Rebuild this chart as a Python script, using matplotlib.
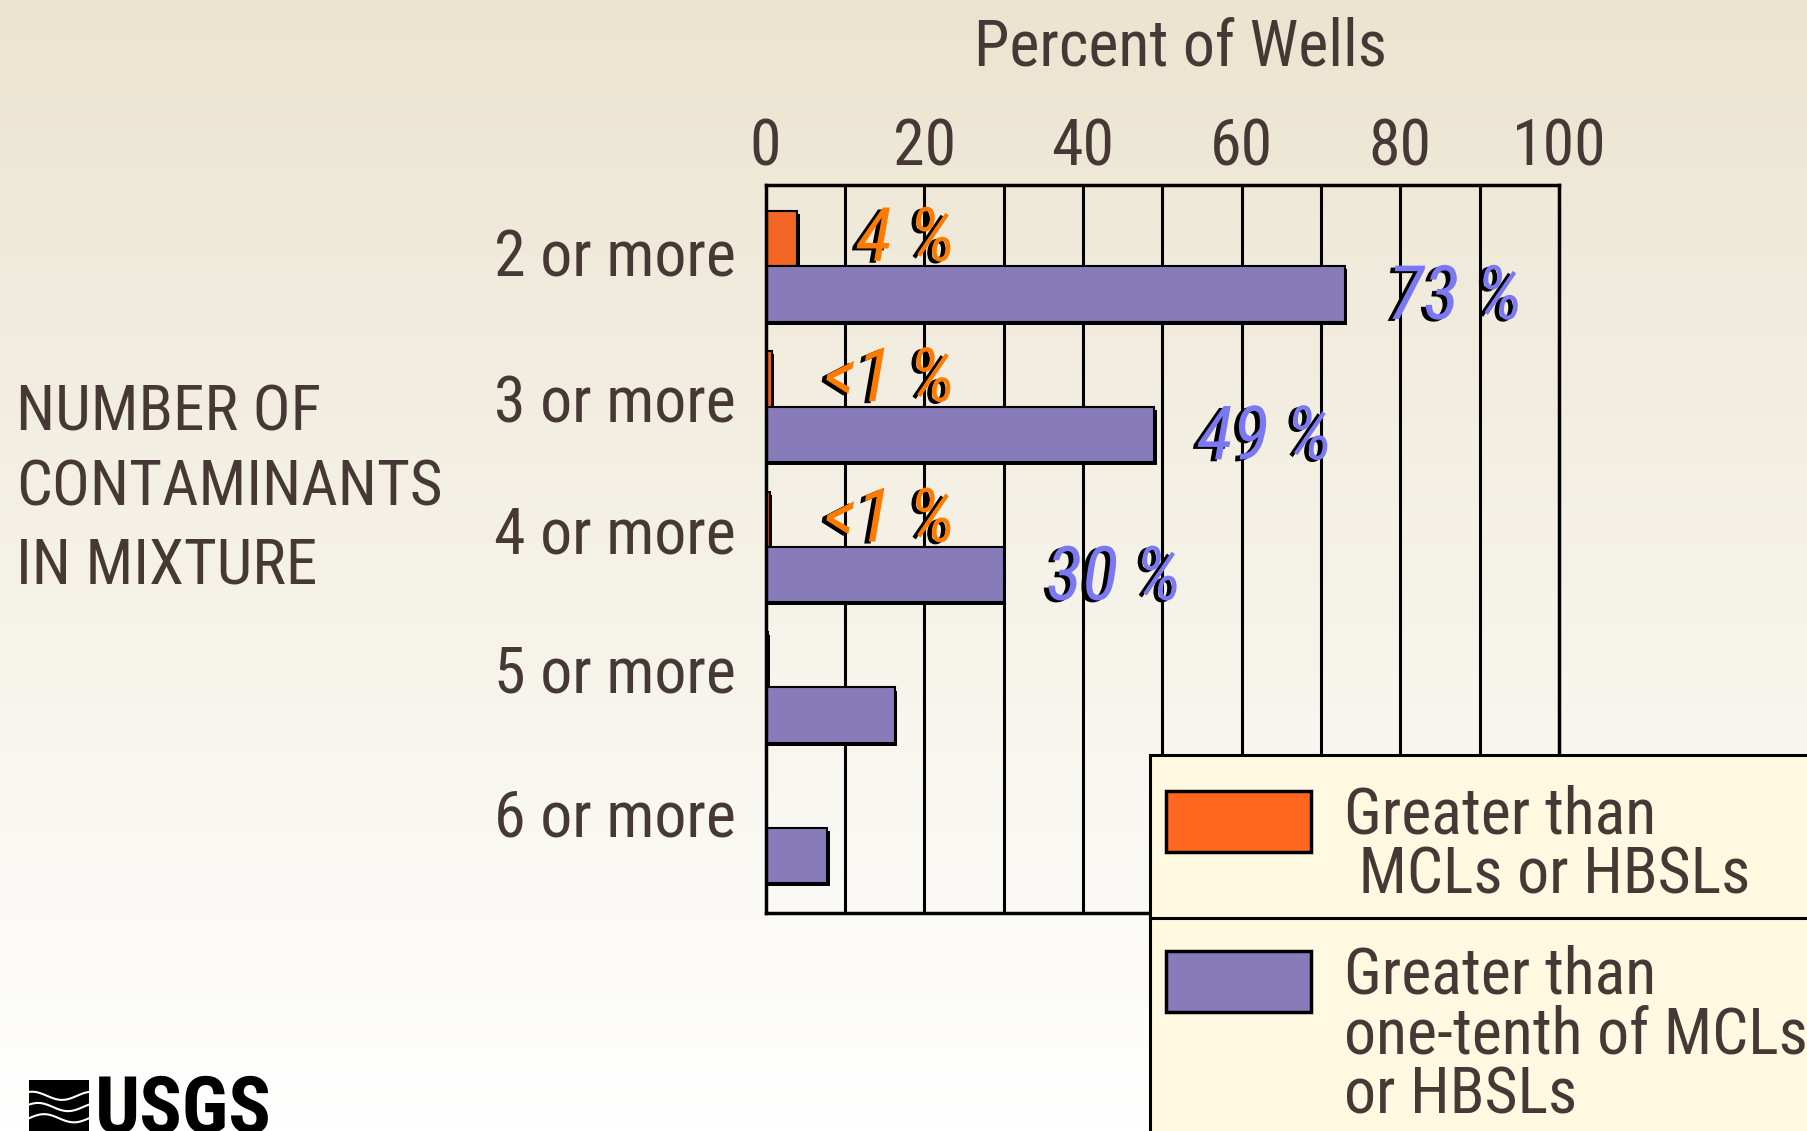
import numpy as np
import matplotlib
matplotlib.use("Agg")
import matplotlib.pyplot as plt
from matplotlib import patheffects as pe
from matplotlib import font_manager as fm
from matplotlib.patches import Rectangle

categories = ["2 or more", "3 or more", "4 or more", "5 or more", "6 or more"]
mcl_values = [4.0, 0.8, 0.5, 0.3, 0.0]
tenth_values = [73, 49, 30, 16.3, 7.8]
mcl_labels = ["4 %", "<1 %", "<1 %", None, None]
tenth_labels = ["73 %", "49 %", "30 %", None, None]
xticks = [0, 20, 40, 60, 80, 100]

files = fm.findSystemFonts()

def pick(cands, **fallback):
    for c in cands:
        for f in files:
            if f.split('/')[-1].lower() == c.lower():
                return fm.FontProperties(fname=f)
    return fm.FontProperties(family='DejaVu Sans', **fallback)

REG = pick(["LiberationSansNarrow-Regular.ttf", "RobotoCondensed-Regular.ttf",
            "DejaVuSansCondensed.ttf"], stretch='condensed')
ITA = pick(["LiberationSansNarrow-Italic.ttf", "RobotoCondensed-Italic.ttf",
            "DejaVuSansCondensed-Oblique.ttf"], style='italic', stretch='condensed')
BOLD = pick(["LiberationSansNarrow-Bold.ttf", "RobotoCondensed-Bold.ttf",
             "DejaVuSansCondensed-Bold.ttf"], weight='bold', stretch='condensed')

def fp(base, size):
    p = base.copy()
    p.set_size(size)
    return p

TXT = "#463935"
ORANGE = "#f26522"
PURPLE = "#877cb9"
ORANGE_T = "#ff7a00"
PURPLE_T = "#7a78f2"
FS = 46

W, H = 1808, 1131
fig = plt.figure(figsize=(W / 100, H / 100), dpi=100)

bg = fig.add_axes([0, 0, 1, 1], zorder=-10)
top = np.array([235, 228, 208]) / 255
bot = np.array([255, 255, 255]) / 255
t = np.linspace(0, 1, 256)[:, None]
grad = top * (1 - t) + bot * t
bg.imshow(np.repeat(grad[:, None, :], 2, axis=1), aspect='auto', extent=[0, 1, 0, 1])
bg.axis('off')

def fx(px):
    return px / W

def fy(py):
    return 1 - py / H

left, right, topp, botp = 765.6, 1559.0, 184.5, 913.2
ax = fig.add_axes([fx(left), fy(botp), fx(right) - fx(left), (botp - topp) / H])
ax.set_facecolor('none')

h = 0.394
y = np.arange(len(categories))
shadow = [pe.SimplePatchShadow(offset=(1.8, -2.2), shadow_rgbFace='black', alpha=1), pe.Normal()]
ax.barh(y - h / 2, mcl_values, height=h, color=ORANGE, edgecolor='black', linewidth=1.5,
        zorder=3, path_effects=shadow)
ax.barh(y + h / 2, tenth_values, height=h, color=PURPLE, edgecolor='black', linewidth=1.5,
        zorder=3, path_effects=shadow)

for g in range(10, 100, 10):
    ax.axvline(g, color='black', lw=2.2, zorder=1)

ax.set_xlim(0, 100)
ax.set_ylim(4.608, -0.583)
ax.set_xticks(xticks)
ax.set_xticklabels([str(v) for v in xticks], fontproperties=fp(REG, FS))
ax.xaxis.tick_top()
ax.tick_params(axis='x', length=0, pad=4, labelcolor=TXT)
ax.set_yticks([])
for s in ax.spines.values():
    s.set_linewidth(2.5)
    s.set_color('black')
    s.set_zorder(4)

label_y = [-0.07, 0.97, 1.9, 2.89, 3.92]
for i, c in enumerate(categories):
    ax.text(-3.7, label_y[i] + 0.015, c, ha='right', va='center', fontproperties=fp(REG, FS), color=TXT)

tshadow = [pe.withSimplePatchShadow(offset=(-3.4, -1.4), shadow_rgbFace='black', alpha=1)]
for i, lab in enumerate(mcl_labels):
    if lab:
        ax.text(23.9, i - h / 2 + 0.01, lab, ha='right', va='center', fontproperties=fp(ITA, 54),
                color=ORANGE_T, zorder=6, path_effects=tshadow)
for i, lab in enumerate(tenth_labels):
    if lab:
        ax.text(tenth_values[i] + 5.4, i + h / 2 + 0.03, lab, ha='left', va='center',
                fontproperties=fp(ITA, 54), color=PURPLE_T, zorder=6, path_effects=tshadow)

fig.text(fx(1180), fy(47), "Percent of Wells", ha='center', va='center', fontproperties=fp(REG, FS), color=TXT)
for py, line in zip([413, 489, 566], ["NUMBER OF", "CONTAMINANTS", "IN MIXTURE"]):
    fig.text(fx(16), fy(py), line, ha='left', va='center', fontproperties=fp(REG, 45.5), color=TXT)

fig.patches.append(Rectangle((fx(1149.6), -0.05), 0.5, fy(755) + 0.05, transform=fig.transFigure,
                             facecolor="#fff9e2", edgecolor='black', lw=2.2, zorder=5))
fig.lines.append(plt.Line2D([fx(1149.6), 1.0], [fy(918), fy(918)], transform=fig.transFigure,
                            color='black', lw=2.2, zorder=6))
for (sy0, sy1), col in zip([(791, 852), (951, 1012)], ["#ff6620", PURPLE]):
    fig.patches.append(Rectangle((fx(1166), fy(sy1)), fx(1311) - fx(1166), (sy1 - sy0) / H,
                                 transform=fig.transFigure, facecolor=col, edgecolor='black',
                                 lw=2.5, zorder=7))
for py, line in zip([815, 875], ["Greater than", " MCLs or HBSLs"]):
    fig.text(fx(1344), fy(py), line, ha='left', va='center', fontproperties=fp(REG, FS), color=TXT, zorder=8)
for py, line in zip([976, 1036, 1095], ["Greater than", "one-tenth of MCLs", "or HBSLs"]):
    fig.text(fx(1344), fy(py), line, ha='left', va='center', fontproperties=fp(REG, FS), color=TXT, zorder=8)

lax = fig.add_axes([fx(29), 0, fx(89) - fx(29), fy(1080)])
lax.set_facecolor('black')
xx = np.linspace(0, 1, 100)
for k in range(3):
    lax.plot(xx, 0.25 + 0.22 * k + 0.08 * np.sin(2 * np.pi * (xx + 0.1 * k)), color='white', lw=1.5)
lax.set_xlim(0, 1)
lax.set_ylim(0, 1)
lax.set_xticks([])
lax.set_yticks([])
for s in lax.spines.values():
    s.set_visible(False)
fig.text(fx(95), fy(1133), "USGS", ha='left', va='baseline', fontproperties=fp(BOLD, 57), color='black')

fig.savefig("out.png", dpi=100)
